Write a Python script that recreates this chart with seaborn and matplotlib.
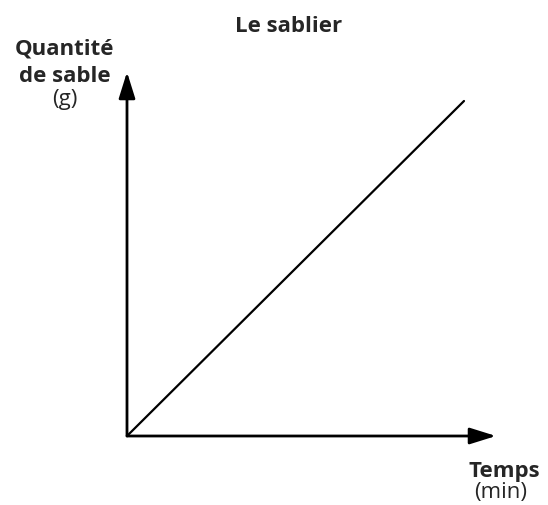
import numpy as np
import pandas as pd
import seaborn as sns
import matplotlib.pyplot as plt

# Le sablier : quantité de sable en fonction du temps (schéma sans graduation)
temps = [0, 10]
sable = [0, 10]

sns.set_style("white")
plt.rcParams['font.family'] = ['Open Sans', 'DejaVu Sans']

df = pd.DataFrame({'Temps': temps, 'Sable': sable})

fig = plt.figure(figsize=(5.48, 5.06), dpi=100)
ax = fig.add_axes([127 / 548, 1 - 437 / 506, 369 / 548, 364 / 506])

sns.lineplot(data=df, x='Temps', y='Sable', ax=ax, color='black', linewidth=1.6)
ax.set_xlim(0, 10 * 369 / 337)
ax.set_ylim(0, 10 * 364 / 335)

for s in ax.spines.values():
    s.set_visible(False)
ax.set_xticks([])
ax.set_yticks([])
ax.set_xlabel('')
ax.set_ylabel('')

arrow = dict(arrowstyle='-|>,head_length=1.6,head_width=0.5', color='black',
             lw=2.0, shrinkA=0, shrinkB=0)
ax.annotate('', xy=(1, 0), xytext=(0, 0), xycoords='axes fraction', arrowprops=arrow)
ax.annotate('', xy=(0, 1), xytext=(0, 0), xycoords='axes fraction', arrowprops=arrow)

fs = 16
fig.text(289 / 548, 1 - 32 / 506, 'Le sablier', ha='center', va='baseline',
         fontsize=fs, fontweight='bold')
fig.text(65 / 548, 1 - 55 / 506, 'Quantité', ha='center', va='baseline',
         fontsize=fs, fontweight='bold')
fig.text(65 / 548, 1 - 82 / 506, 'de sable', ha='center', va='baseline',
         fontsize=fs, fontweight='bold')
fig.text(65 / 548, 1 - 105 / 506, '(g)', ha='center', va='baseline', fontsize=fs)
fig.text(540 / 548, 1 - 477 / 506, 'Temps', ha='right', va='baseline',
         fontsize=fs, fontweight='bold')
fig.text(501 / 548, 1 - 498 / 506, '(min)', ha='center', va='baseline', fontsize=fs)

fig.savefig('out.png', dpi=100)
